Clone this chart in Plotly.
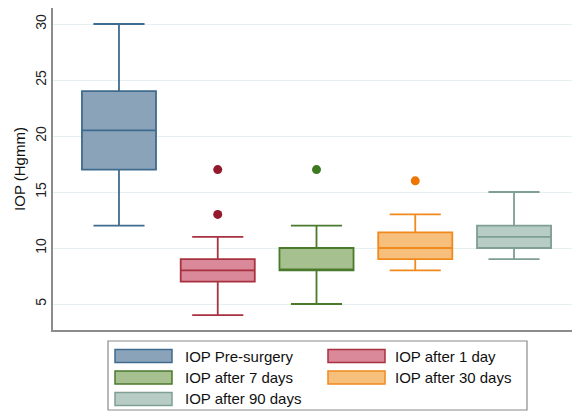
import plotly.graph_objects as go

# ---- data ----
groups = ["IOP Pre-surgery", "IOP after 1 day", "IOP after 7 days",
          "IOP after 30 days", "IOP after 90 days"]
positions = [1, 2, 3, 4, 5]
lower_whisker = [12, 4, 5, 8, 9]
q1_vals = [17, 7, 8, 9, 10]
median_vals = [20.5, 8, 8, 10, 11]
q3_vals = [24, 9, 10, 11.4, 12]
upper_whisker = [30, 11, 12, 13, 15]
outliers = [[], [13, 17], [17], [16], []]

y_ticks = [5, 10, 15, 20, 25, 30]

# ---- styles ----
line_colors = ["#3f6b8f", "#a8323f", "#4a7a2c", "#f08a1c", "#7f9e94"]
fill_colors = ["#8ba3b9", "#d9899a", "#a6c08f", "#f7bf7c", "#b7ccc5"]
dot_colors = ["#3f6b8f", "#921a2c", "#3b7a1f", "#ee7600", "#7f9e94"]

fig = go.Figure()
for i, g in enumerate(groups):
    fig.add_trace(go.Box(
        x=[positions[i]], q1=[q1_vals[i]], median=[median_vals[i]], q3=[q3_vals[i]],
        lowerfence=[lower_whisker[i]], upperfence=[upper_whisker[i]],
        name=g, width=0.75, whiskerwidth=0.69,
        line=dict(color=line_colors[i], width=1.8), fillcolor=fill_colors[i],
        boxpoints=False, showlegend=False, hoverinfo="skip",
    ))
    if outliers[i]:
        fig.add_trace(go.Scatter(
            x=[positions[i]] * len(outliers[i]), y=outliers[i], mode="markers",
            marker=dict(color=dot_colors[i], size=9), showlegend=False,
            hoverinfo="skip",
        ))

# ---- geometry helpers for manual legend (pixel -> paper) ----
L, R, T, B, W, H = 53, 2, 8, 82, 574, 412
pw, ph = W - L - R, H - T - B
def px(x):
    return (x - L) / pw
def py(y):
    return (H - B - y) / ph

shapes = [dict(type="rect", xref="paper", yref="paper",
               x0=px(108), x1=px(527), y0=py(341), y1=py(410),
               line=dict(color="#8a8a8a", width=1.2), fillcolor="white", layer="above")]
annotations = []
sw_x = [115, 328]
tx_x = [183, 393]
row_y = [356, 377.5, 399]
for i, g in enumerate(groups):
    c, r = i % 2, i // 2
    shapes.append(dict(type="rect", xref="paper", yref="paper",
                       x0=px(sw_x[c]), x1=px(sw_x[c] + 57),
                       y0=py(row_y[r] + 6.5), y1=py(row_y[r] - 6.5),
                       line=dict(color=line_colors[i], width=1.5),
                       fillcolor=fill_colors[i], layer="above"))
    annotations.append(dict(text=g, xref="paper", yref="paper",
                            x=px(tx_x[c]), y=py(row_y[r]), xanchor="left", yanchor="middle",
                            showarrow=False, font=dict(size=15, color="#111")))

fig.update_layout(
    width=W, height=H, margin=dict(l=L, r=R, t=T, b=B),
    paper_bgcolor="white", plot_bgcolor="white",
    font=dict(family="Liberation Sans, Arial, sans-serif", color="#222"),
    shapes=shapes, annotations=annotations, showlegend=False,
)
fig.update_xaxes(range=[0.332, 5.587], showticklabels=False, showgrid=False,
                 zeroline=False, showline=True, linecolor="#8c8c8c", linewidth=1.5,
                 ticks="")
fig.update_yaxes(range=[2.68, 31.43], tickvals=y_ticks, tickangle=-90,
                 tickfont=dict(size=14, color="#222"),
                 showgrid=True, gridcolor="#e6eff1", gridwidth=1, zeroline=False,
                 showline=True, linecolor="#8c8c8c", linewidth=1.5,
                 ticks="",
                 title=dict(text="IOP (Hgmm)", font=dict(size=15, color="#111"), standoff=3))

fig.write_html("out.html")
